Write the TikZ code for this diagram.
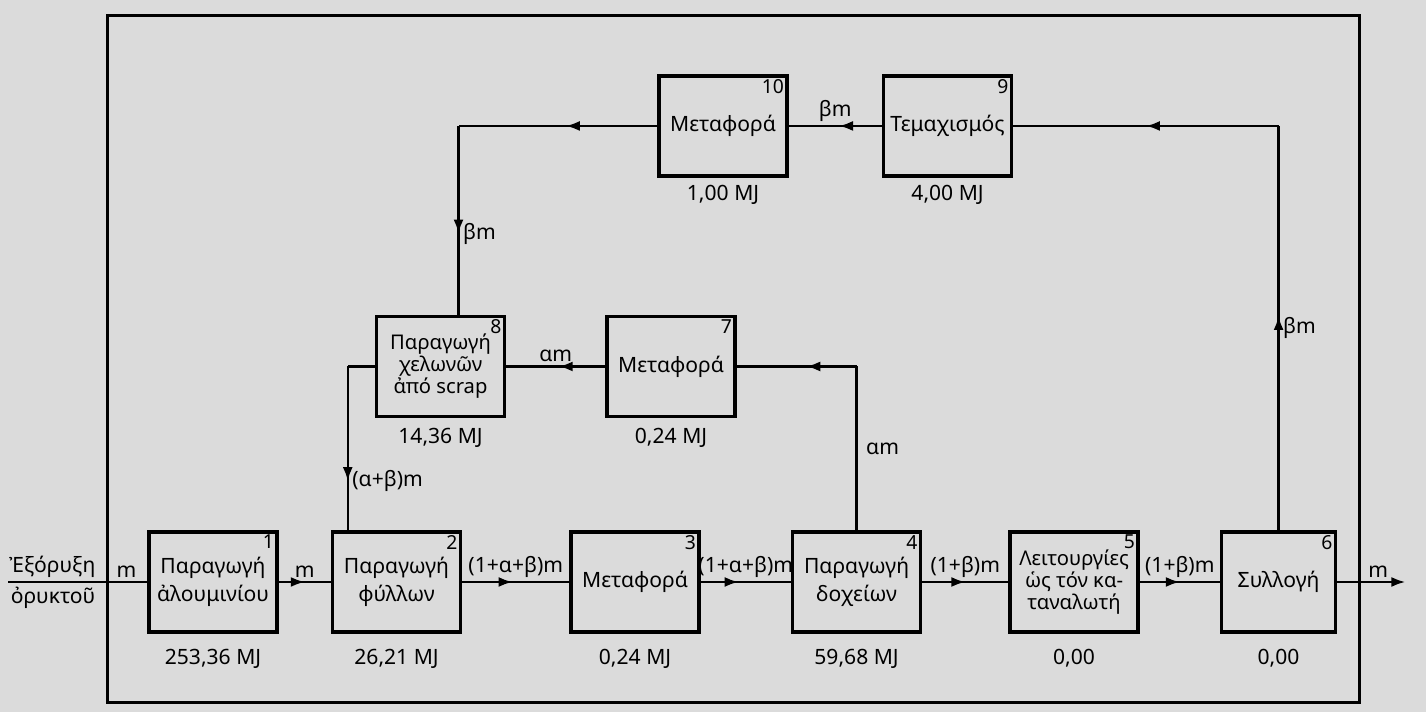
\documentclass[tikz,border=0pt]{standalone}
\usepackage{fontspec}
\setmainfont{Noto Sans}
\usetikzlibrary{arrows.meta, positioning, calc, decorations.markings}
\tikzset{
    base/.style={align=center, font=\fontsize{12}{16}\selectfont},
    stage/.style={base, draw, line width=2pt, rectangle, minimum width=2.56cm, minimum height=2cm, inner sep=2pt},
    tall/.style={font=\fontsize{11.5}{12.5}\selectfont},
    num/.style={base, font=\fontsize{11}{13}\selectfont, anchor=north east, inner sep=2.6pt},
    energy/.style={base, inner sep=0pt},
    flowlbl/.style={base, inner sep=2pt},
    conn/.style={line width=1.3pt, draw=black},
    midarrow/.style={conn, postaction={decorate}, decoration={markings, mark=at position #1 with {\arrow{Latex[length=2.8mm,width=2mm]}}}},
    midarrow/.default=0.5,
    boundary/.style={line width=1.5pt, draw=black}
}
\begin{document}
\begin{tikzpicture}[node distance=1cm]
    \path[use as bounding box, fill=black!14] (0,0) rectangle (28.52,14.24);

    % main chain
    \node (b1) [stage, label={[num]north east:1}] at (4.26,2.6) {Παραγωγή\\ἀλουμινίου};
    \node (b2) [stage, label={[num]north east:2}, right=1.04cm of b1] {Παραγωγή\\φύλλων};
    \node (b3) [stage, label={[num]north east:3}, right=2.14cm of b2] {Μεταφορά};
    \node (b4) [stage, label={[num]north east:4}, right=1.8cm of b3] {Παραγωγή\\δοχείων};
    \node (b5) [stage, tall, label={[num]north east:5}, right=1.72cm of b4] {Λειτουργίες\\ὡς τόν κα-\\ταναλωτή};
    \node (b6) [stage, label={[num]north east:6}, minimum width=2.28cm, right=1.6cm of b5] {Συλλογή};

    % recycling loop
    \node (b8) [stage, tall, label={[num]north east:8}, above=2.24cm of b2, xshift=0.88cm] {Παραγωγή\\χελωνῶν\\ἀπό scrap};
    \node (b7) [stage, label={[num]north east:7}, right=1.98cm of b8] {Μεταφορά};
    \node (b10) [stage, label={[num]north east:10}, above=2.74cm of b7, xshift=1.04cm] {Μεταφορά};
    \node (b9) [stage, label={[num]north east:9}, right=1.86cm of b10] {Τεμαχισμός};

    % energy per stage
    \node (e1) [energy, below=0.3cm of b1] {253,36 MJ};
    \node (e2) [energy, below=0.3cm of b2] {26,21 MJ};
    \node (e3) [energy, below=0.3cm of b3] {0,24 MJ};
    \node (e4) [energy, below=0.3cm of b4] {59,68 MJ};
    \node (e5) [energy, below=0.3cm of b5] {0,00};
    \node (e6) [energy, below=0.3cm of b6] {0,00};
    \node (e8) [energy, below=0.2cm of b8] {14,36 MJ};
    \node (e7) [energy, below=0.2cm of b7] {0,24 MJ};
    \node (e10) [energy, below=0.15cm of b10] {1,00 MJ};
    \node (e9) [energy, below=0.15cm of b9] {4,00 MJ};

    % system boundary
    \coordinate (fnw) at ($(b1.west |- b10.north)+(-0.8,1.18)$);
    \coordinate (fse) at ($(b6.east |- b1.south)+(0.44,-1.38)$);
    \draw[boundary] (fnw) rectangle (fse);

    % flows
    \coordinate (src) at ($(b1.west)+(-2.78,0)$);
    \coordinate (sink) at ($(b6.east)+(1.36,0)$);
    \draw[conn] (src) -- node (lore) [flowlbl, pos=0.66, anchor=south east] {Ἐξόρυξη}
        node (lore2) [flowlbl, pos=0.66, anchor=north east] {ὀρυκτοῦ}
        node (lm0) [flowlbl, pos=0.85, above] {m} (b1);
    \draw[midarrow] (b1) -- node (lm1) [flowlbl, above] {m} (b2);
    \draw[midarrow=0.47] (b2) -- node (lm2) [flowlbl, above] {(1+α+β)m} (b3);
    \draw[midarrow=0.42] (b3) -- node (lm3) [flowlbl, above] {(1+α+β)m} (b4);
    \draw[midarrow] (b4) -- node (lm4) [flowlbl, above] {(1+β)m} (b5);
    \draw[midarrow] (b5) -- node (lm5) [flowlbl, above] {(1+β)m} (b6);
    \draw[conn, -{Latex[length=2.8mm,width=2mm]}] (b6) -- node (lm6) [flowlbl, above, pos=0.6] {m} (sink);

    % return flows
    \coordinate (c6) at (b6.north |- b9.east);
    \draw[midarrow=0.53] (b6.north) -- node (lb6) [flowlbl, right] {βm} (c6);
    \draw[midarrow] (c6) -- (b9.east);
    \draw[midarrow=0.46] (b9) -- node (lb9) [flowlbl, above] {βm} (b10);
    \coordinate (in8) at ($(b8.north)+(0.36,0)$);
    \coordinate (c10) at (in8 |- b10.west);
    \draw[midarrow=0.46] (b10.west) -- (c10);
    \draw[midarrow=0.57] (c10) -- node (lb10) [flowlbl, right, pos=0.57] {βm} (in8);
    \coordinate (c4) at (b4.north |- b7.east);
    \draw[conn] (b4.north) -- node (la4) [flowlbl, right, xshift=0.1cm] {αm} (c4);
    \draw[midarrow=0.42] (c4) -- (b7.east);
    \draw[midarrow=0.47] (b7) -- node (la7) [flowlbl, above] {αm} (b8);
    \coordinate (in2) at ($(b2.north west)+(0.34,0)$);
    \coordinate (c8) at (in2 |- b8.west);
    \draw[conn] (b8.west) -- (c8);
    \draw[midarrow=0.7] (c8) -- node (lab) [flowlbl, right, pos=0.7] {(α+β)m} (in2);
\end{tikzpicture}
\end{document}
